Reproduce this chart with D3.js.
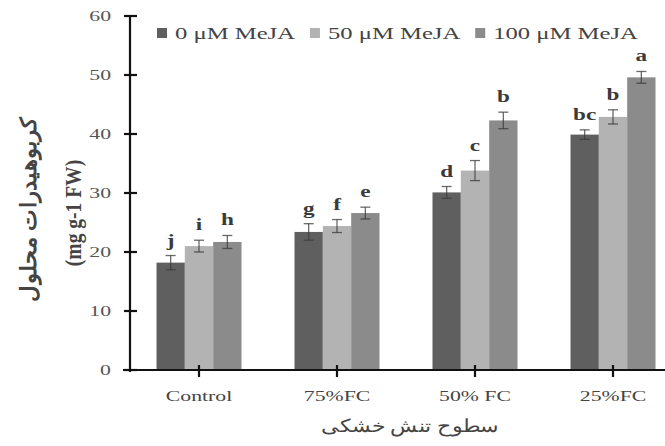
<!DOCTYPE html>
<html lang="en">
  <head>
    <meta charset="utf-8" />
    <title>Soluble carbohydrates under drought stress</title>
    <script src="https://cdn.jsdelivr.net/npm/d3@7"></script>
    <style>
      body { margin: 0; background: #fff; }
      text { font-family: "Liberation Serif", serif; }
    </style>
  </head>
  <body>
    <div id="chart"></div>
    <script type="text/javascript">
      // data
      const categories = ["Control", "75%FC", "50% FC", "25%FC"];
      const seriesNames = ["0 μM MeJA", "50 μM MeJA", "100 μM MeJA"];
      const values0 = [18.2, 23.4, 30.1, 39.9];
      const values50 = [21.0, 24.4, 33.8, 42.9];
      const values100 = [21.7, 26.6, 42.3, 49.6];
      const err0 = [1.2, 1.4, 1.0, 0.8];
      const err50 = [1.0, 1.1, 1.7, 1.2];
      const err100 = [1.1, 1.0, 1.4, 1.0];
      const letters0 = ["j", "g", "d", "bc"];
      const letters50 = ["i", "f", "c", "b"];
      const letters100 = ["h", "e", "b", "a"];
      const yTicks = [0, 10, 20, 30, 40, 50, 60];
      const colors = ["#5f5f5f", "#b3b3b3", "#8b8b8b"];

      const width = 665, height = 446;
      const sx = 1.45; // the figure is stretched sideways

      const svg = d3.select("#chart").append("svg")
        .attr("width", width).attr("height", height);

      const x0 = d3.scaleBand().domain(categories).range([130, 682])
        .paddingInner(0.384).paddingOuter(0.192);
      const x1 = d3.scaleBand().domain(seriesNames).range([0, x0.bandwidth()]);
      const y = d3.scaleLinear().domain([0, 60]).range([370, 16]);

      const series = seriesNames.map((name, i) => ({
        name: name,
        color: colors[i],
        rows: categories.map((c, j) => ({
          cat: c,
          v: [values0, values50, values100][i][j],
          e: [err0, err50, err100][i][j],
          l: [letters0, letters50, letters100][i][j]
        }))
      }));

      function stretchText(sel, x, yy) {
        return sel.attr("transform", `translate(${x},${yy}) scale(${sx},1)`);
      }

      // bars
      const groups = svg.selectAll("g.series").data(series).join("g")
        .attr("class", "series");
      groups.selectAll("rect").data(d => d.rows.map(r => ({ ...r, name: d.name, color: d.color })))
        .join("rect")
        .attr("x", d => x0(d.cat) + x1(d.name))
        .attr("y", d => y(d.v))
        .attr("width", x1.bandwidth())
        .attr("height", d => y(0) - y(d.v))
        .attr("fill", d => d.color);

      // error bars + letters
      groups.each(function (s) {
        const g = d3.select(this);
        s.rows.forEach(r => {
          const cx = x0(r.cat) + x1(s.name) + x1.bandwidth() / 2;
          g.append("line")
            .attr("x1", cx).attr("x2", cx)
            .attr("y1", y(r.v - r.e)).attr("y2", y(r.v + r.e))
            .attr("stroke", "#3a3a3a").attr("stroke-width", 1.3).attr("opacity", 0.75);
          [r.v - r.e, r.v + r.e].forEach(t => {
            g.append("line")
              .attr("x1", cx - 5).attr("x2", cx + 5)
              .attr("y1", y(t)).attr("y2", y(t))
              .attr("stroke", "#3a3a3a").attr("stroke-width", 1.3).attr("opacity", 0.75);
          });
          g.append("text")
            .attr("text-anchor", "middle")
            .attr("font-size", 16)
            .attr("font-weight", "bold")
            .attr("fill", "#3a3a3a")
            .call(stretchText, cx, y(r.v + r.e) - 10)
            .text(r.l);
        });
      });

      // y axis
      svg.append("line")
        .attr("x1", 130).attr("x2", 130)
        .attr("y1", y(60)).attr("y2", y(0) + 2)
        .attr("stroke", "#111").attr("stroke-width", 2.2);
      svg.selectAll("line.ytick").data(yTicks).join("line")
        .attr("class", "ytick")
        .attr("x1", 124).attr("x2", 137)
        .attr("y1", d => y(d)).attr("y2", d => y(d))
        .attr("stroke", "#111").attr("stroke-width", 2.2);
      svg.selectAll("text.ylab").data(yTicks).join("text")
        .attr("class", "ylab")
        .attr("text-anchor", "end")
        .attr("dominant-baseline", "central")
        .attr("font-size", 15)
        .attr("fill", "#555")
        .each(function (d) { stretchText(d3.select(this), 111, y(d)); })
        .text(d => d);

      // x axis
      svg.append("line")
        .attr("x1", 123).attr("x2", 682)
        .attr("y1", y(0)).attr("y2", y(0))
        .attr("stroke", "#111").attr("stroke-width", 2.2);
      svg.selectAll("line.xtick").data(categories).join("line")
        .attr("class", "xtick")
        .attr("x1", d => x0(d) + x0.bandwidth() / 2)
        .attr("x2", d => x0(d) + x0.bandwidth() / 2)
        .attr("y1", y(0) - 5).attr("y2", y(0) + 7)
        .attr("stroke", "#111").attr("stroke-width", 2.2);
      svg.selectAll("text.xlab").data(categories).join("text")
        .attr("class", "xlab")
        .attr("text-anchor", "middle")
        .attr("dominant-baseline", "central")
        .attr("font-size", 15)
        .attr("fill", "#444")
        .each(function (d) { stretchText(d3.select(this), x0(d) + x0.bandwidth() / 2, 396); })
        .text(d => d);

      // axis titles
      svg.append("text")
        .attr("text-anchor", "middle")
        .attr("dominant-baseline", "central")
        .attr("font-family", "DejaVu Sans")
        .attr("font-size", 16)
        .attr("fill", "#444")
        .attr("direction", "rtl")
        .attr("transform", "translate(410,426) scale(1.35,1.1)")
        .text("سطوح تنش خشکی");

      svg.append("text")
        .attr("text-anchor", "middle")
        .attr("dominant-baseline", "central")
        .attr("font-family", "DejaVu Sans")
        .attr("font-size", 17)
        .attr("font-weight", "bold")
        .attr("fill", "#444")
        .attr("direction", "rtl")
        .attr("transform", "translate(29,209) rotate(-90) scale(1.35,1.3)")
        .text("کربوهیدرات محلول");

      svg.append("text")
        .attr("text-anchor", "middle")
        .attr("dominant-baseline", "central")
        .attr("font-size", 17)
        .attr("font-weight", "bold")
        .attr("fill", "#444")
        .attr("transform", "translate(73,213) rotate(-90) scale(1.15,1.35)")
        .text("(mg g-1 FW)");

      // legend
      let lx = 157;
      series.forEach(s => {
        svg.append("rect")
          .attr("x", lx).attr("y", 28).attr("width", 10).attr("height", 10)
          .attr("fill", s.color);
        const t = svg.append("text")
          .attr("dominant-baseline", "central")
          .attr("font-size", 17)
          .attr("fill", "#444")
          .call(stretchText, lx + 18, 33)
          .text(s.name);
        lx += 18 + t.node().getComputedTextLength() * sx + 15;
      });
    </script>
  </body>
</html>
